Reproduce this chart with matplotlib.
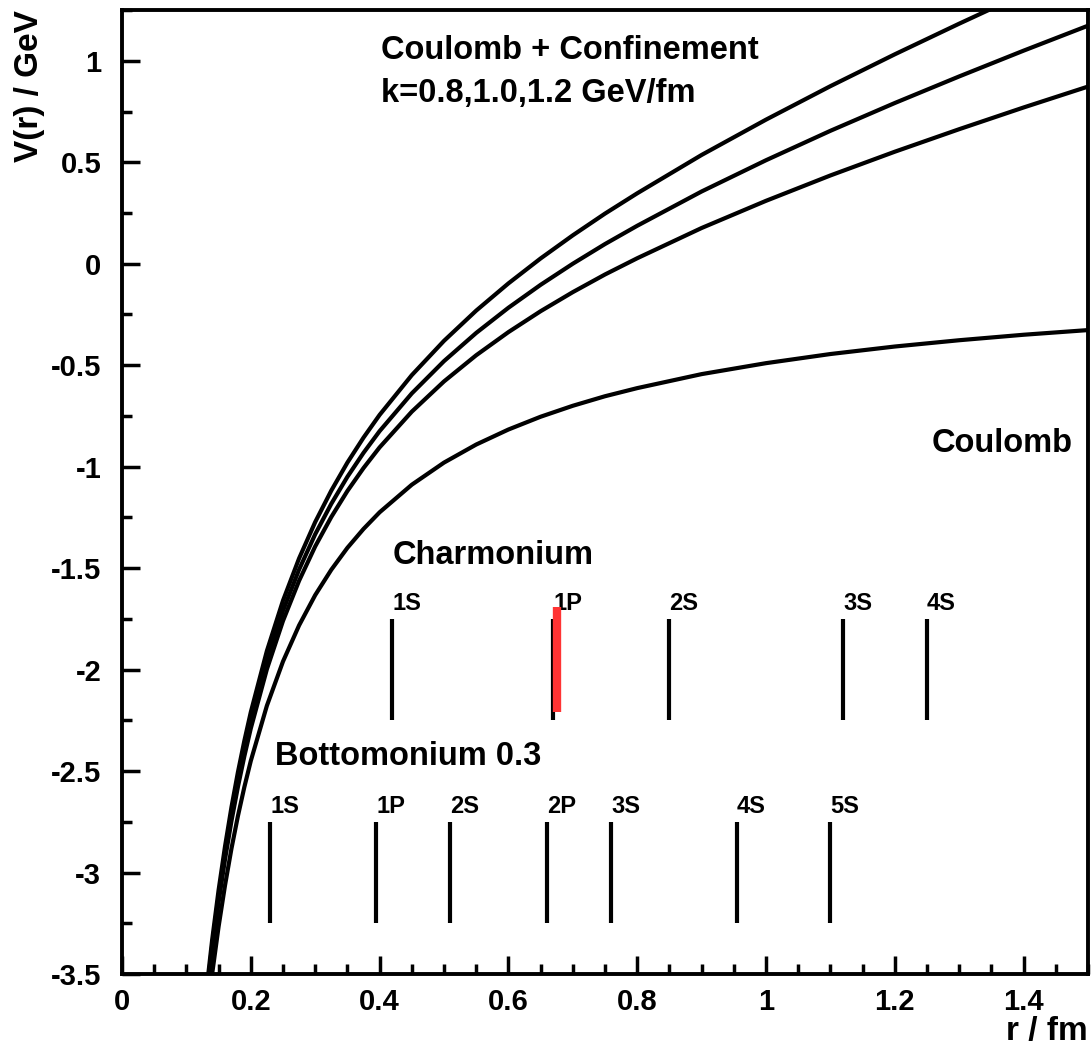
import numpy as np
import matplotlib
matplotlib.use("Agg")
import matplotlib.pyplot as plt
from matplotlib.ticker import MultipleLocator

plt.rcParams['font.family'] = ['Liberation Sans', 'DejaVu Sans']
plt.rcParams['font.weight'] = 'bold'

r = [0.13, 0.14, 0.15, 0.16, 0.17, 0.18, 0.19, 0.20, 0.225, 0.25, 0.275, 0.30,
     0.325, 0.35, 0.375, 0.40, 0.45, 0.50, 0.55, 0.60, 0.65, 0.70, 0.75, 0.80,
     0.9, 1.0, 1.1, 1.2, 1.3, 1.4, 1.5]

# potential curves (GeV)
v_coulomb = [-3.769, -3.500, -3.267, -3.063, -2.882, -2.722, -2.579, -2.450, -2.178, -1.960,
             -1.782, -1.633, -1.508, -1.400, -1.307, -1.225, -1.089, -0.980, -0.891, -0.817,
             -0.754, -0.700, -0.653, -0.613, -0.544, -0.490, -0.445, -0.408, -0.377, -0.350,
             -0.327]
v_k08 = [-3.665, -3.388, -3.147, -2.935, -2.746, -2.578, -2.427, -2.290, -1.998, -1.760,
         -1.562, -1.393, -1.248, -1.120, -1.007, -0.905, -0.729, -0.580, -0.451, -0.337,
         -0.234, -0.140, -0.053, 0.027, 0.176, 0.310, 0.435, 0.552, 0.663, 0.770, 0.873]
v_k10 = [-3.639, -3.360, -3.117, -2.903, -2.712, -2.542, -2.389, -2.250, -1.953, -1.710,
         -1.507, -1.333, -1.183, -1.050, -0.932, -0.825, -0.639, -0.480, -0.341, -0.217,
         -0.104, 0.000, 0.097, 0.187, 0.356, 0.510, 0.655, 0.792, 0.923, 1.050, 1.173]
v_k12 = [-3.613, -3.332, -3.087, -2.871, -2.678, -2.506, -2.351, -2.210, -1.908, -1.660,
         -1.452, -1.273, -1.118, -0.980, -0.857, -0.745, -0.549, -0.380, -0.231, -0.097,
         0.026, 0.140, 0.247, 0.347, 0.536, 0.710, 0.875, 1.032, 1.183, 1.330, 1.473]

# bound state radii (fm)
charm_states = ['1S', '1P', '2S', '3S', '4S']
charm_r = [0.42, 0.67, 0.85, 1.12, 1.25]
bottom_states = ['1S', '1P', '2S', '2P', '3S', '4S', '5S']
bottom_r = [0.23, 0.395, 0.51, 0.66, 0.76, 0.955, 1.10]
highlight_r = 0.676

fig = plt.figure(figsize=(10.91, 10.58), dpi=100)
ax = fig.add_axes([0.1118, 0.0794, 0.8855, 0.9111])

for v in [v_coulomb, v_k08, v_k10, v_k12]:
    ax.plot(r, v, color='black', lw=3.0, solid_joinstyle='round')

# charmonium levels
ax.vlines(charm_r, -2.25, -1.75, color='black', lw=3.0)
for name, x in zip(charm_states, charm_r):
    ax.text(x, -1.675, name, fontsize=17, fontweight='bold', ha='left', va='center')
ax.vlines(highlight_r, -2.21, -1.69, color='#ff3333', lw=6.0, zorder=5)

# bottomonium levels
ax.vlines(bottom_r, -3.25, -2.75, color='black', lw=3.0)
for name, x in zip(bottom_states, bottom_r):
    ax.text(x, -2.675, name, fontsize=17, fontweight='bold', ha='left', va='center')

big = 23.5
ax.text(0.42, -1.44, 'Charmonium', fontsize=big, fontweight='bold', va='center')
ax.text(0.238, -2.43, 'Bottomonium 0.3', fontsize=big, fontweight='bold', va='center')
ax.text(1.476, -0.885, 'Coulomb', fontsize=big, fontweight='bold', ha='right', va='center')
ax.text(0.402, 1.05, 'Coulomb + Confinement', fontsize=big, fontweight='bold', va='center')
ax.text(0.402, 0.84, 'k=0.8,1.0,1.2 GeV/fm', fontsize=big, fontweight='bold', va='center')

ax.set_xlim(0, 1.5)
ax.set_ylim(-3.5, 1.25)
ax.xaxis.set_minor_locator(MultipleLocator(0.05))
ax.yaxis.set_minor_locator(MultipleLocator(0.25))
ax.set_xticks([0, 0.2, 0.4, 0.6, 0.8, 1.0, 1.2, 1.4])
ax.set_xticklabels(['0', '0.2', '0.4', '0.6', '0.8', '1', '1.2', '1.4'])
ax.set_yticks([-3.5, -3, -2.5, -2, -1.5, -1, -0.5, 0, 0.5, 1])
ax.set_yticklabels(['-3.5', '-3', '-2.5', '-2', '-1.5', '-1', '-0.5', '0', '0.5', '1'])
ax.tick_params(which='both', direction='in', width=2.5, labelsize=21, top=False, right=False)
ax.tick_params(which='major', length=13)
ax.tick_params(which='minor', length=7.5)
ax.tick_params(axis='x', which='major', pad=10)
ax.tick_params(axis='y', which='major', pad=15)
for lab in ax.get_xticklabels() + ax.get_yticklabels():
    lab.set_fontweight('bold')
for s in ax.spines.values():
    s.set_linewidth(2.8)

ax.set_xlabel('r / fm', fontsize=24, fontweight='bold', loc='right', labelpad=0)
ax.set_ylabel('V(r) / GeV', fontsize=24, fontweight='bold', loc='top', labelpad=4)

fig.savefig('out.png', dpi=100)
